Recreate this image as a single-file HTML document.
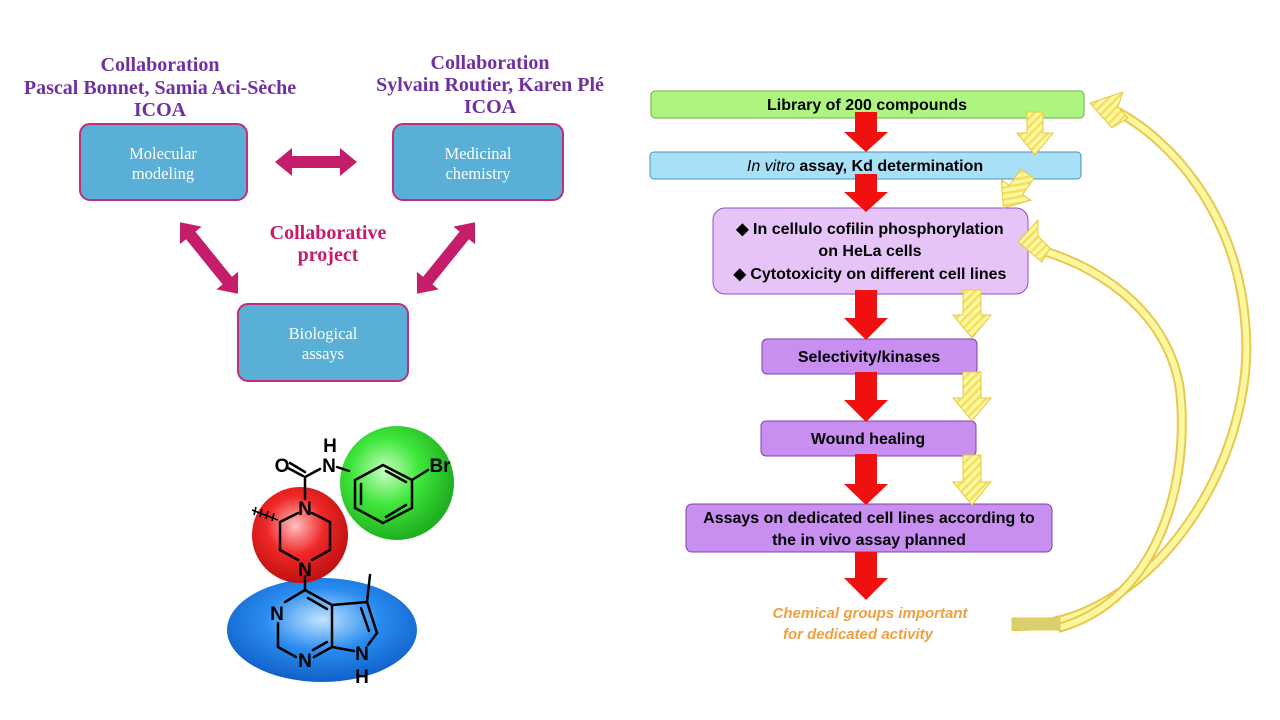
<!DOCTYPE html>
<html><head><meta charset="utf-8"><style>
body{margin:0;background:#fff}
svg{display:block}
.ser{font-family:"Liberation Serif",serif;font-weight:bold}
.san{font-family:"Liberation Sans",sans-serif;font-weight:bold}
</style></head><body>
<svg width="1280" height="720" viewBox="0 0 1280 720" xmlns="http://www.w3.org/2000/svg">
<defs>
<pattern id="hy" width="6" height="6" patternUnits="userSpaceOnUse" patternTransform="rotate(45)">
<rect width="6" height="6" fill="#fdf7a0"/><rect width="2.5" height="6" fill="#f3e060"/></pattern>
<radialGradient id="gG" cx="0.4" cy="0.4" r="0.6"><stop offset="0" stop-color="#c8ffc0"/><stop offset="0.5" stop-color="#3ee63a"/><stop offset="1" stop-color="#20b020"/></radialGradient>
<radialGradient id="gR" cx="0.45" cy="0.4" r="0.6"><stop offset="0" stop-color="#ffc0c0"/><stop offset="0.5" stop-color="#f02828"/><stop offset="1" stop-color="#c01010"/></radialGradient>
<radialGradient id="gB" cx="0.5" cy="0.4" r="0.6"><stop offset="0" stop-color="#c0e4ff"/><stop offset="0.5" stop-color="#2a8cf0"/><stop offset="1" stop-color="#1060c8"/></radialGradient>
</defs>

<g class="ser" fill="#7030a0" font-size="20" text-anchor="middle">
<text x="160" y="71">Collaboration</text>
<text x="160" y="94">Pascal Bonnet, Samia Aci-Sèche</text>
<text x="160" y="116">ICOA</text>
<text x="490" y="69">Collaboration</text>
<text x="490" y="91">Sylvain Routier, Karen Plé</text>
<text x="490" y="113">ICOA</text>
</g>
<g fill="#5aafd6" stroke="#c0307a" stroke-width="2">
<rect x="80" y="124" width="167" height="76" rx="10"/>
<rect x="393" y="124" width="170" height="76" rx="10"/>
<rect x="238" y="304" width="170" height="77" rx="10"/>
</g>
<g font-family="Liberation Serif,serif" fill="#fff" font-size="16.5" text-anchor="middle">
<text x="163" y="159">Molecular</text><text x="163" y="179">modeling</text>
<text x="478" y="159">Medicinal</text><text x="478" y="179">chemistry</text>
<text x="323" y="339">Biological</text><text x="323" y="359">assays</text>
</g>
<g fill="#c41e6a">
<polygon points="275,162 292,148 292,156 340,156 340,148 357,162 340,176 340,168 292,168 292,176"/>
<g transform="translate(209,258) rotate(51)"><polygon points="-46,0 -29,-14 -29,-6 29,-6 29,-14 46,0 29,14 29,6 -29,6 -29,14"/></g>
<g transform="translate(446,258) rotate(-51)"><polygon points="-46,0 -29,-14 -29,-6 29,-6 29,-14 46,0 29,14 29,6 -29,6 -29,14"/></g>
</g>
<g class="ser" fill="#c8196c" font-size="20" text-anchor="middle">
<text x="328" y="239">Collaborative</text><text x="328" y="261">project</text>
</g>

<ellipse cx="322" cy="630" rx="95" ry="52" fill="url(#gB)"/>
<circle cx="397" cy="483" r="57" fill="url(#gG)"/>
<circle cx="300" cy="535" r="48" fill="url(#gR)"/>
<g stroke="#000" stroke-width="2.5" fill="none" stroke-linecap="round">
<line x1="305" y1="477" x2="305" y2="499"/>
<line x1="305" y1="477" x2="320" y2="469"/>
<line x1="288" y1="468" x2="303" y2="476"/><line x1="290" y1="463" x2="305" y2="472"/>
<line x1="337" y1="467" x2="349" y2="471"/>
<polygon points="355,480 383,465 412,480 412,508 383,523 355,508"/>
<line x1="361" y1="484" x2="361" y2="504"/><line x1="386" y1="517" x2="406" y2="505"/><line x1="386" y1="471" x2="406" y2="482"/>
<line x1="412" y1="480" x2="428" y2="470"/>
<line x1="298" y1="513" x2="280" y2="522"/><line x1="312" y1="513" x2="330" y2="522"/>
<line x1="280" y1="522" x2="280" y2="550"/><line x1="330" y1="522" x2="330" y2="550"/>
<line x1="280" y1="550" x2="298" y2="560"/><line x1="330" y1="550" x2="312" y2="560"/>
<line x1="305" y1="576" x2="305" y2="590"/>
<line x1="305" y1="590" x2="285" y2="602"/>
<line x1="305" y1="590" x2="332" y2="605"/>
<line x1="308" y1="598" x2="327" y2="609"/>
<line x1="332" y1="605" x2="332" y2="647"/>
<line x1="278" y1="623" x2="278" y2="647"/>
<line x1="278" y1="647" x2="296" y2="657"/>
<line x1="314" y1="657" x2="332" y2="647"/>
<line x1="313" y1="650" x2="327" y2="642"/>
<line x1="332" y1="605" x2="367" y2="602"/>
<line x1="367" y1="602" x2="370" y2="575"/>
<line x1="367" y1="602" x2="377" y2="633"/>
<line x1="361" y1="608" x2="369" y2="631"/>
<line x1="377" y1="633" x2="368" y2="645"/>
<line x1="332" y1="647" x2="354" y2="651"/>
</g>
<g stroke="#000" stroke-width="1.6"><line x1="252" y1="510" x2="278" y2="520"/><line x1="256" y1="507" x2="254" y2="515"/><line x1="262" y1="509" x2="260" y2="517"/><line x1="268" y1="511" x2="266" y2="519"/><line x1="274" y1="513" x2="272" y2="521"/></g>
<g class="san" font-size="19" fill="#000" text-anchor="middle">
<text x="282" y="472">O</text><text x="329" y="472">N</text><text x="330" y="452">H</text>
<text x="440" y="472">Br</text>
<text x="305" y="515">N</text><text x="305" y="576">N</text>
<text x="277" y="620">N</text><text x="305" y="667">N</text>
<text x="362" y="660">N</text><text x="362" y="683">H</text>
</g>

<rect x="651" y="91" width="433" height="27" rx="4" fill="#aef580" stroke="#6ab04a"/>
<rect x="650" y="152" width="431" height="27" rx="4" fill="#a8e0f8" stroke="#4a90b8"/>
<rect x="713" y="208" width="315" height="86" rx="12" fill="#e6c4f8" stroke="#9050c0"/>
<rect x="762" y="339" width="215" height="35" rx="5" fill="#c88ef0" stroke="#8040b0"/>
<rect x="761" y="421" width="215" height="35" rx="5" fill="#c88ef0" stroke="#8040b0"/>
<rect x="686" y="504" width="366" height="48" rx="6" fill="#c88ef0" stroke="#8040b0"/>
<g font-family="Liberation Sans,sans-serif" font-weight="bold" font-size="16" fill="#000" text-anchor="middle">
<text x="867" y="110">Library of 200 compounds</text>
<text x="865" y="171"><tspan font-style="italic" font-weight="normal">In vitro</tspan> assay, Kd determination</text>
<text x="870" y="234">◆ In cellulo cofilin phosphorylation</text>
<text x="870" y="256">on HeLa cells</text>
<text x="870" y="279">◆ Cytotoxicity on different cell lines</text>
<text x="869" y="362">Selectivity/kinases</text>
<text x="868" y="444">Wound healing</text>
<text x="869" y="523">Assays on dedicated cell lines according to</text>
<text x="869" y="545">the in vivo assay planned</text>
</g>
<g font-family="Liberation Sans,sans-serif" font-weight="bold" font-style="italic" font-size="15" fill="#f0a040" text-anchor="middle">
<text x="870" y="618">Chemical groups important</text><text x="858" y="639">for dedicated activity</text>
</g>

<g fill="#f01010">
<polygon points="855,112 877,112 877,132 888,132 866,152 844,132 855,132"/>
<polygon points="855,174 877,174 877,192 888,192 866,212 844,192 855,192"/>
<polygon points="855,290 877,290 877,318 888,318 866,340 844,318 855,318"/>
<polygon points="855,372 877,372 877,400 888,400 866,422 844,400 855,400"/>
<polygon points="855,454 877,454 877,484 888,484 866,505 844,484 855,484"/>
<polygon points="855,552 877,552 877,578 888,578 866,600 844,578 855,578"/>
</g>
<g fill="url(#hy)" stroke="#e8c840" stroke-width="1">
<polygon points="1027,112 1043,112 1043,133 1053,133 1035,155 1017,133 1027,133"/>
<g transform="translate(1016,190) rotate(35)"><polygon points="-8,-20 8,-20 8,0 18,0 0,22 -18,0 -8,0"/></g>
<polygon points="963,290 981,290 981,315 991,315 972,338 953,315 963,315"/>
<polygon points="963,372 981,372 981,398 991,398 972,421 953,398 963,398"/>
<polygon points="963,455 981,455 981,482 991,482 972,505 953,482 963,482"/>
</g>
<path d="M1012,626 C1150,630 1260,460 1245,320 C1235,210 1170,140 1118,112" fill="none" stroke="#e8c850" stroke-width="10"/>
<path d="M1012,626 C1150,630 1260,460 1245,320 C1235,210 1170,140 1118,112" fill="none" stroke="#fdf7a0" stroke-width="6"/>
<polygon points="1090,103 1123,92 1118,107 1128,118 1112,128" fill="url(#hy)" stroke="#e8c840"/>
<path d="M1058,628 C1160,600 1190,480 1180,390 C1170,320 1110,270 1040,250" fill="none" stroke="#e8c850" stroke-width="10"/>
<path d="M1058,628 C1160,600 1190,480 1180,390 C1170,320 1110,270 1040,250" fill="none" stroke="#fdf7a0" stroke-width="6"/>
<polygon points="1018,242 1038,220 1038,236 1050,248 1042,262" fill="url(#hy)" stroke="#e8c840"/>
<rect x="1012" y="618" width="48" height="12" fill="#d8d070" stroke="#e8c840"/>
</svg>
</body></html>
